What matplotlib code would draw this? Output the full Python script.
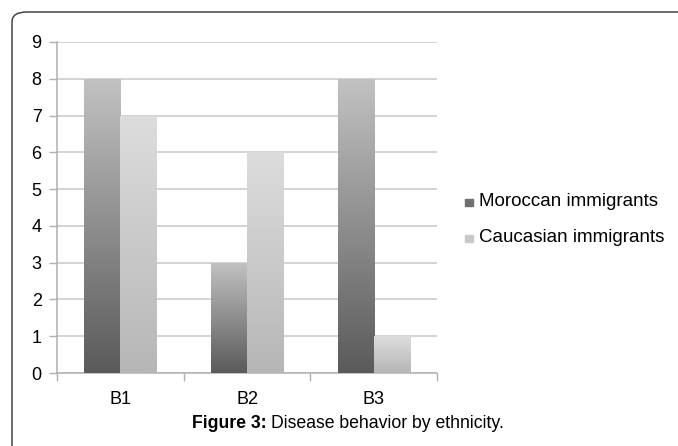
import numpy as np
import matplotlib
matplotlib.use("Agg")
import matplotlib.pyplot as plt
from matplotlib.patches import FancyBboxPatch
from matplotlib.colors import LinearSegmentedColormap

categories = ["B1", "B2", "B3"]
moroccan = [8, 3, 8]
caucasian = [7, 6, 1]
series_names = ["Moroccan immigrants", "Caucasian immigrants"]
y_ticks = list(range(0, 10))

plt.rcParams['font.family'] = ['Liberation Sans', 'DejaVu Sans']

W, H = 678, 446
fig = plt.figure(figsize=(W / 100, H / 100), dpi=100)

# outer rounded frame, only the top-left corner is in view
frame = FancyBboxPatch((12 / W, -0.2), 1.2, (H - 12) / H + 0.2,
                       boxstyle="round,pad=0,rounding_size=0.022",
                       transform=fig.transFigure, fill=False,
                       edgecolor="#444444", linewidth=1.1)
fig.patches.append(frame)

ax = fig.add_axes([57 / W, (H - 373) / H, (437 - 57) / W, (373 - 42) / H])

x = np.arange(len(categories))
bw = 0.285

cmap_m = LinearSegmentedColormap.from_list("m", ["#5a5a5a", "#c2c2c2"])
cmap_c = LinearSegmentedColormap.from_list("c", ["#b6b6b6", "#dddddd"])

bars_m = ax.bar(x - bw / 2, moroccan, bw, color="none", zorder=3)
bars_c = ax.bar(x + bw / 2, caucasian, bw, color="none", zorder=3)

# vertical gradient inside each bar
grad = np.linspace(0, 1, 256).reshape(-1, 1)
for bars, cmap in [(bars_m, cmap_m), (bars_c, cmap_c)]:
    for b in bars:
        x0, y0 = b.get_x(), b.get_y()
        w, h = b.get_width(), b.get_height()
        im = ax.imshow(grad, cmap=cmap, origin="lower", aspect="auto",
                       extent=(x0, x0 + w, y0, y0 + h), zorder=3)
        im.set_clip_path(b)

ax.set_xlim(-0.5, 2.5)
ax.set_ylim(0, 9)

ax.set_yticks(y_ticks)
ax.set_yticklabels([str(v) for v in y_ticks], fontsize=13)
ax.yaxis.grid(True, color="#c8c8c8", linewidth=1.1, zorder=0)
ax.set_axisbelow(True)

ax.set_xticks(x)
ax.set_xticklabels(categories, fontsize=13)
ax.set_xticks([-0.5, 0.5, 1.5, 2.5], minor=True)
ax.tick_params(axis="x", which="major", length=0, pad=13)
ax.tick_params(axis="x", which="minor", length=6, color="#b0b0b0", width=1)
ax.tick_params(axis="y", length=6, color="#b0b0b0", width=1, pad=5)

for s in ["top", "right"]:
    ax.spines[s].set_visible(False)
for s in ["left", "bottom"]:
    ax.spines[s].set_color("#b0b0b0")
    ax.spines[s].set_linewidth(1.1)

# legend
legend_y = [202, 238]
legend_cols = ["#707070", "#c8c8c8"]
for name, col, ly in zip(series_names, legend_cols, legend_y):
    fig.patches.append(plt.Rectangle((465 / W, (H - ly - 4) / H), 8 / W, 7 / H,
                                     transform=fig.transFigure, color=col))
    fig.text(479 / W, (H - ly) / H, name, fontsize=13.5, va="center", ha="left")

# caption
fig.text(267 / W, (H - 424) / H, "Figure 3:", fontsize=12.7,
         fontweight="bold", ha="right", va="center")
fig.text(271 / W, (H - 424) / H, "Disease behavior by ethnicity.", fontsize=12.7,
         ha="left", va="center")

fig.savefig("out.png", dpi=100)
